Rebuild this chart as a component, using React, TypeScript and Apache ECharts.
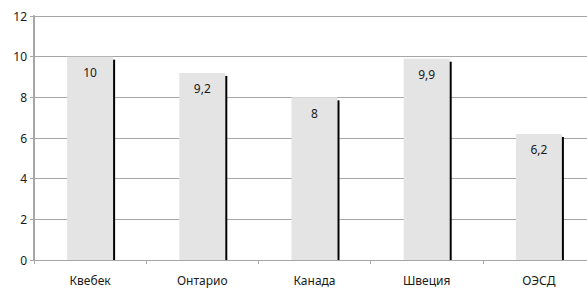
import React, { useEffect, useRef } from "react";
import * as echarts from "echarts";

const categories = ["Квебек", "Онтарио", "Канада", "Швеция", "ОЭСД"];
const values = [10, 9.2, 8, 9.9, 6.2];
const yMin = 0;
const yMax = 12;
const yInterval = 2;

const fmt = (v: number) => String(v).replace(".", ",");

export default function App() {
  const ref = useRef<HTMLDivElement>(null);
  useEffect(() => {
    if (!ref.current) return;
    const chart = echarts.init(ref.current, null, { renderer: "svg" });
    const font = "Noto Sans";
    chart.setOption({
      animation: false,
      grid: { left: 34, top: 16, bottom: 29, width: 561, outerBoundsMode: "none" },
      xAxis: {
        type: "category",
        data: categories,
        axisLine: { lineStyle: { color: "#a6a6a6", width: 1 } },
        axisTick: { show: true, length: 4, lineStyle: { color: "#a6a6a6" } },
        axisLabel: { color: "#1a1a1a", fontFamily: font, fontSize: 12, margin: 14 },
      },
      yAxis: {
        type: "value",
        min: yMin,
        max: yMax,
        interval: yInterval,
        axisLine: { show: true, lineStyle: { color: "#a6a6a6", width: 2 } },
        axisTick: { show: true, length: 4, lineStyle: { color: "#a6a6a6" } },
        axisLabel: { color: "#1a1a1a", fontFamily: font, fontSize: 12, margin: 7 },
        splitLine: { lineStyle: { color: "#a6a6a6", width: 1 } },
      },
      series: [
        {
          type: "bar",
          data: values,
          barWidth: 46,
          itemStyle: { color: "#e4e4e4" },
          label: {
            show: true,
            position: "insideTop",
            distance: 10,
            color: "#1a1a1a",
            fontFamily: font,
            fontSize: 12,
            formatter: (p: any) => fmt(p.value),
          },
          z: 2,
        },
        {
          type: "custom",
          data: values.map((v, i) => [i, v]),
          renderItem: (params: any, api: any) => {
            const top = api.coord([api.value(0), api.value(1)]);
            const bottom = api.coord([api.value(0), 0]);
            return {
              type: "rect",
              shape: { x: top[0] + 23, y: top[1] + 3, width: 2, height: bottom[1] - top[1] - 3 },
              style: { fill: "#000" },
            };
          },
          z: 3,
        },
      ],
    });
    return () => chart.dispose();
  }, []);
  return <div ref={ref} style={{ width: 587, height: 289, position: "absolute", left: 0, top: 0 }} />;
}
